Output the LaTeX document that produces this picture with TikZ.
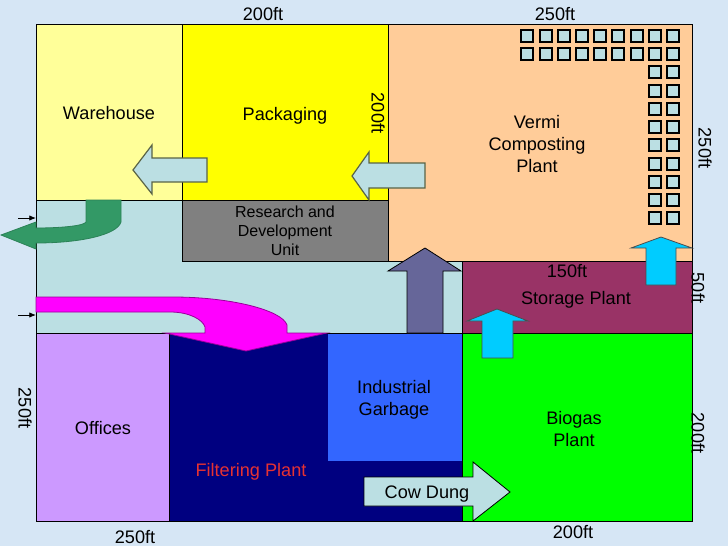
\documentclass[tikz,border=0pt]{standalone}
\usepackage{fontspec}
\setmainfont{Liberation Sans}
\usepackage{tikz}
\definecolor{skyback}{RGB}{214,230,245}
\definecolor{corridor}{RGB}{187,223,227}
\definecolor{wareyellow}{RGB}{255,255,153}
\definecolor{packyellow}{RGB}{255,255,0}
\definecolor{vermipeach}{RGB}{255,204,153}
\definecolor{resgray}{RGB}{128,128,128}
\definecolor{storeplum}{RGB}{153,51,102}
\definecolor{biogreen}{RGB}{0,255,0}
\definecolor{garbblue}{RGB}{51,102,255}
\definecolor{officelilac}{RGB}{204,153,255}
\definecolor{filternavy}{RGB}{0,0,128}
\definecolor{slatearrow}{RGB}{102,102,153}
\definecolor{cyanarrow}{RGB}{0,204,255}
\definecolor{exitgreen}{RGB}{51,153,102}
\definecolor{pipemagenta}{RGB}{255,0,255}
\definecolor{arrowrim}{RGB}{90,100,70}
\tikzset{
  room/.style={draw=black,line width=0.75pt},
  lbl/.style={inner sep=0pt,align=center,font=\fontsize{13.6}{16.5}\selectfont},
  dimlbl/.style={lbl,rotate=-90},
  palearr/.style={draw=arrowrim,fill=corridor,line width=0.9pt},
  cyanarr/.style={draw=black!70,fill=cyanarrow,line width=0.6pt},
  tank/.style={draw=black,fill=corridor,line width=0.9pt},
  entry/.style={-{Latex[length=5pt,width=4pt]},black,line width=0.6pt}
}
\usetikzlibrary{arrows.meta}
\begin{document}
\begin{tikzpicture}[x=0.75pt,y=-0.75pt]
  \useasboundingbox[fill=skyback] (0,0) rectangle (728,546);
  % rooms
  \draw[room,fill=corridor] (36,200) rectangle (462,333);
  \draw[room,fill=wareyellow] (36,24) rectangle (182,200);
  \draw[room,fill=packyellow] (182,24) rectangle (388,200);
  \draw[room,fill=vermipeach] (388,24) rectangle (692,261);
  \draw[room,fill=resgray] (182,200) rectangle (388,261);
  \draw[room,fill=storeplum] (462,261) rectangle (692,333);
  \draw[room,fill=officelilac] (36,333) rectangle (169,521);
  \draw[room,fill=filternavy] (169,333) rectangle (462,521);
  \fill[garbblue] (328,333) rectangle (462,461);
  \draw[room,fill=biogreen] (462,333) rectangle (692,521);
  \draw[room] (328,333)--(462,333)--(462,461);
  % tanks
  \foreach \x in {521,540,558,576,594,612,631,649,667} {
    \draw[tank] (\x,30) rectangle ++(12,12);
    \draw[tank] (\x,48) rectangle ++(12,12);
  }
  \foreach \y in {66,85,103,121,139,158,176,194,212} {
    \draw[tank] (649,\y) rectangle ++(12,12);
    \draw[tank] (667,\y) rectangle ++(12,12);
  }
  % block arrows
  \draw[palearr] (133,170)--(152,145)--(152,158)--(207,158)--(207,182)--(152,182)--(152,194)--cycle;
  \draw[palearr] (352,176)--(369,152)--(369,163)--(425,163)--(425,188)--(369,188)--(369,200)--cycle;
  \draw[draw=black,fill=slatearrow,line width=0.6pt] (425,248)--(461,271)--(443,271)--(443,333)--(407,333)--(407,271)--(388,271)--cycle;
  \draw[cyanarr] (661,237)--(692,248)--(676,248)--(676,285)--(646,285)--(646,248)--(631,248)--cycle;
  \draw[cyanarr] (497,309)--(528,321)--(513,321)--(513,358)--(482,358)--(482,321)--(467,321)--cycle;
  \draw[draw=black,fill=corridor,line width=0.6pt] (510,492)--(473,521)--(473,506)--(364,506)--(364,477)--(473,477)--(473,462)--cycle;
  \draw[draw=exitgreen!85!black,fill=exitgreen,line width=0.6pt] (86,200)--(86,222)
    .. controls (84,226) and (60,228) .. (36,228)--(36,222)--(1,235)--(36,249)--(36,243)
    .. controls (80,243) and (117,235) .. (121,222)--(121,200)--cycle;
  \draw[draw=pipemagenta!60!black,fill=pipemagenta,line width=0.6pt] (36,297)--(173,297)
    .. controls (230,297) and (282,310) .. (287,325)--(287,333)--(327,333)--(246,351)--(165,333)--(205,333)--(205,327)
    .. controls (203,320) and (190,312) .. (170,312)--(36,312)--cycle;
  % entries
  \coordinate (entryA) at (18,218);
  \coordinate (wallA) at (36,218);
  \coordinate (entryB) at (18,315);
  \coordinate (wallB) at (36,315);
  \draw[entry] (entryA)--(wallA);
  \draw[entry] (entryB)--(wallB);
  % labels
  \node[lbl] (warehouse) at (109,113) {Warehouse};
  \node[lbl] (packaging) at (285,116) {Packaging};
  \node[lbl] (vermi) at (537,144) {Vermi\\Composting\\Plant};
  \node[lbl,font=\fontsize{12}{14.3}\selectfont] (research) at (285,231) {Research and\\Development\\Unit};
  \node[lbl] (storage) at (576,300) {Storage Plant};
  \node[lbl] (garbage) at (394,400) {Industrial\\Garbage};
  \node[lbl] (biogas) at (574,429) {Biogas\\Plant};
  \node[lbl] (offices) at (103,428) {Offices};
  \node[lbl,text={rgb,255:red,230;green,50;blue,50}] (filtering) at (251,472) {Filtering Plant};
  \node[lbl] (cowdung) at (427,494) {Cow Dung};
  % dimensions
  \node[lbl] (dimtopA) at (263,14) {200ft};
  \node[lbl] (dimtopB) at (555,14) {250ft};
  \node[lbl] (dimstore) at (567,271) {150ft};
  \node[lbl] (dimbotA) at (135,537) {250ft};
  \node[lbl] (dimbotB) at (573,532) {200ft};
  \node[dimlbl] (dimpack) at (378,113) {200ft};
  \node[dimlbl] (dimvermi) at (705,148) {250ft};
  \node[dimlbl] (dimstoreh) at (698,288) {50ft};
  \node[dimlbl] (dimbio) at (698,433) {200ft};
  \node[dimlbl] (dimoff) at (25,408) {250ft};
\end{tikzpicture}
\end{document}
